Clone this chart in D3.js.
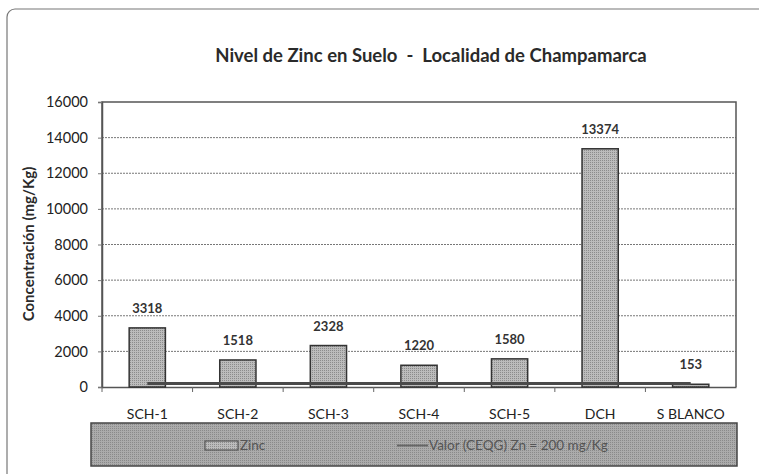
<!DOCTYPE html>
<html>
<head>
<meta charset="utf-8">
<script src="https://cdn.jsdelivr.net/npm/d3@7"></script>
<style>
  body { margin: 0; background: #fff; }
  text { font-family: Lato, "Open Sans", sans-serif; }
</style>
</head>
<body>
<div id="chart"></div>
<script>
// datos
const categories = ["SCH-1", "SCH-2", "SCH-3", "SCH-4", "SCH-5", "DCH", "S BLANCO"];
const zincValues = [3318, 1518, 2328, 1220, 1580, 13374, 153];
const limitValue = 200; // Valor (CEQG) Zn
const yTicks = [0, 2000, 4000, 6000, 8000, 10000, 12000, 14000, 16000];

const width = 759;
const height = 474;
const plot = { left: 102, right: 736, top: 102, bottom: 387 };

const svg = d3.select("#chart")
  .append("svg")
  .attr("width", width)
  .attr("height", height);

// textura de puntos tipo impresion
const defs = svg.append("defs");
const pat = defs.append("pattern")
  .attr("id", "dots")
  .attr("width", 2).attr("height", 2)
  .attr("patternUnits", "userSpaceOnUse");
pat.append("rect").attr("width", 2).attr("height", 2).attr("fill", "#bcbcbc");
pat.append("rect").attr("width", 1).attr("height", 1).attr("fill", "#8c8c8c");

const pat2 = defs.append("pattern")
  .attr("id", "dotsDark")
  .attr("width", 2).attr("height", 2)
  .attr("patternUnits", "userSpaceOnUse");
pat2.append("rect").attr("width", 2).attr("height", 2).attr("fill", "#ababab");
pat2.append("rect").attr("width", 1).attr("height", 1).attr("fill", "#8a8a8a");

// marco exterior
svg.append("rect")
  .attr("x", 7).attr("y", 9)
  .attr("width", 800).attr("height", 520)
  .attr("rx", 8)
  .attr("fill", "none")
  .attr("stroke", "#777")
  .attr("stroke-width", 1.2);

// escalas
const x = d3.scaleBand()
  .domain(categories)
  .range([plot.left, plot.right])
  .paddingInner(0)
  .paddingOuter(0);

const y = d3.scaleLinear()
  .domain([0, 16000])
  .range([plot.bottom, plot.top]);

const barW = x.bandwidth() * 0.4;

// lineas de grilla
svg.append("g")
  .selectAll("line")
  .data(yTicks.filter(d => d > 0 && d < 16000))
  .join("line")
  .attr("x1", plot.left).attr("x2", plot.right)
  .attr("y1", d => y(d)).attr("y2", d => y(d))
  .attr("stroke", "#777")
  .attr("stroke-width", 1)
  .attr("stroke-dasharray", "2,1");

// borde del area de trazado
svg.append("path")
  .attr("d", `M${plot.left},${plot.bottom}V${plot.top}H${plot.right}V${plot.bottom}`)
  .attr("fill", "none")
  .attr("stroke", "#555")
  .attr("stroke-width", 1.5);

// eje Y
const yAxis = svg.append("g")
  .attr("transform", `translate(${plot.left},0)`)
  .call(d3.axisLeft(y).tickValues(yTicks).tickSize(4).tickPadding(10).tickFormat(d3.format("d")));
yAxis.select(".domain").attr("stroke", "#555").attr("stroke-width", 1.5);
yAxis.selectAll(".tick line").attr("stroke", "#777");
yAxis.selectAll("text")
  .attr("font-size", 14.5)
  .attr("font-family", "Lato, sans-serif")
  .attr("fill", "#222");

// eje X
const xAxis = svg.append("g")
  .attr("transform", `translate(0,${plot.bottom})`)
  .call(d3.axisBottom(x).tickSize(0).tickPadding(22));
xAxis.select(".domain").attr("stroke", "#555").attr("stroke-width", 1.5);
xAxis.selectAll("text")
  .attr("font-size", 14)
  .attr("font-family", "Lato, sans-serif")
  .attr("fill", "#222");

// marcas entre categorias
svg.append("g")
  .selectAll("line")
  .data(categories)
  .join("line")
  .attr("x1", d => x(d)).attr("x2", d => x(d))
  .attr("y1", plot.bottom).attr("y2", plot.bottom + 5)
  .attr("stroke", "#666");

// barras
svg.append("g")
  .selectAll("rect")
  .data(zincValues)
  .join("rect")
  .attr("x", (d, i) => x(categories[i]) + x.bandwidth() / 2 - barW / 2)
  .attr("y", d => y(d))
  .attr("width", barW)
  .attr("height", d => y(0) - y(d))
  .attr("fill", "url(#dots)")
  .attr("stroke", "#333")
  .attr("stroke-width", 1.5);

// etiquetas de datos
svg.append("g")
  .selectAll("text")
  .data(zincValues)
  .join("text")
  .attr("x", (d, i) => x(categories[i]) + x.bandwidth() / 2)
  .attr("y", d => y(d) - 15)
  .attr("text-anchor", "middle")
  .attr("font-size", 13)
  .attr("font-weight", "bold")
  .attr("fill", "#333")
  .text(d => d);

// linea de referencia
const line = d3.line()
  .x(d => x(d) + x.bandwidth() / 2)
  .y(() => y(limitValue));
svg.append("path")
  .datum(categories)
  .attr("d", line)
  .attr("fill", "none")
  .attr("stroke", "#4a4a4a")
  .attr("stroke-width", 3);

// titulo
svg.append("text")
  .attr("x", 431).attr("y", 62)
  .attr("text-anchor", "middle")
  .attr("font-size", 18.5)
  .attr("font-weight", "bold")
  .attr("fill", "#2a2a2a")
  .style("white-space", "pre")
  .text("Nivel de Zinc en Suelo  -  Localidad de Champamarca");

// titulo eje Y
svg.append("text")
  .attr("transform", "translate(34,244) rotate(-90)")
  .attr("text-anchor", "middle")
  .attr("font-size", 15)
  .attr("font-weight", "bold")
  .attr("fill", "#2a2a2a")
  .text("Concentración (mg/Kg)");

// leyenda
const legend = svg.append("g");
legend.append("rect")
  .attr("x", 91).attr("y", 423)
  .attr("width", 646).attr("height", 43)
  .attr("fill", "url(#dotsDark)")
  .attr("stroke", "#444")
  .attr("stroke-width", 1.5);
legend.append("rect")
  .attr("x", 205).attr("y", 441)
  .attr("width", 33).attr("height", 9)
  .attr("fill", "url(#dots)")
  .attr("stroke", "#444")
  .attr("stroke-width", 1);
legend.append("text")
  .attr("x", 240).attr("y", 450)
  .attr("font-size", 13.5)
  .attr("fill", "#555")
  .text("Zinc");
legend.append("line")
  .attr("x1", 397).attr("x2", 428)
  .attr("y1", 445.5).attr("y2", 445.5)
  .attr("stroke", "#666")
  .attr("stroke-width", 2);
legend.append("text")
  .attr("x", 429).attr("y", 450)
  .attr("font-size", 13.5)
  .attr("fill", "#555")
  .text("Valor (CEQG) Zn = 200 mg/Kg");
</script>
</body>
</html>
